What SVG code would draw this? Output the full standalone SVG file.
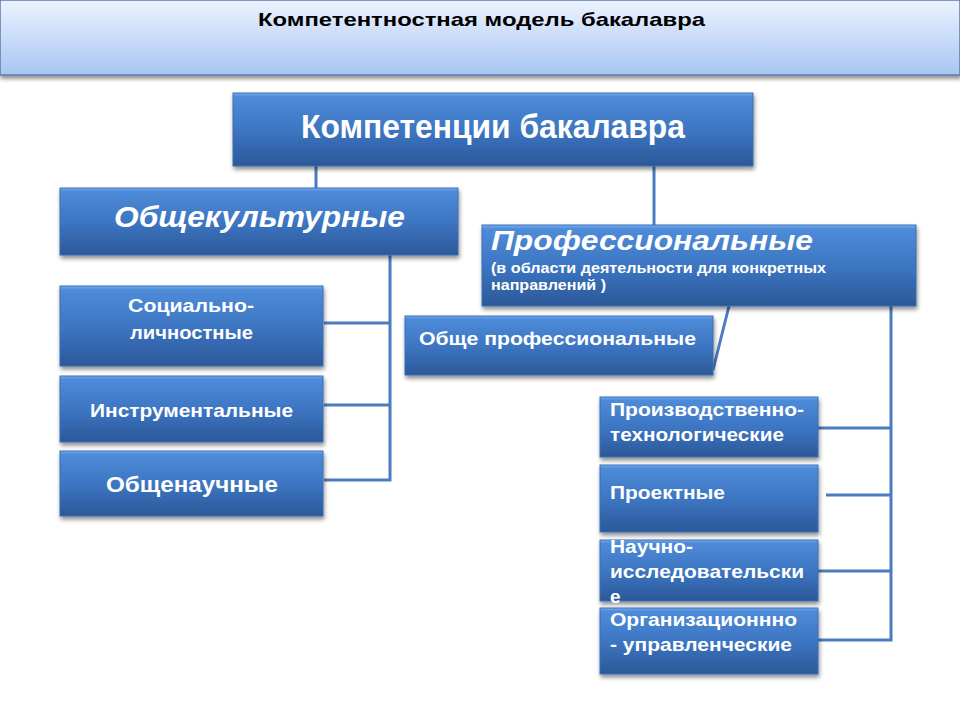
<svg xmlns="http://www.w3.org/2000/svg" width="960" height="720" viewBox="0 0 960 720">
<defs>
<linearGradient id="hdr" x1="0" y1="0" x2="0" y2="1">
<stop offset="0" stop-color="#edf3fe"/>
<stop offset="0.5" stop-color="#cadcf9"/>
<stop offset="1" stop-color="#a7c6f3"/>
</linearGradient>
<linearGradient id="box" x1="0" y1="0" x2="0" y2="1">
<stop offset="0" stop-color="#74aef0"/>
<stop offset="0.05" stop-color="#4e8bd8"/>
<stop offset="0.5" stop-color="#3d76c3"/>
<stop offset="1" stop-color="#2b5898"/>
</linearGradient>
<filter id="sh" x="-10%" y="-10%" width="120%" height="130%">
<feDropShadow dx="1" dy="3" stdDeviation="2" flood-color="#000" flood-opacity="0.45"/>
</filter>
</defs>
<style>
.b{fill:url(#box);stroke:#3a6fb3;stroke-width:1;filter:url(#sh)}
.t{font-family:"Liberation Sans",Arial,sans-serif;font-weight:bold;fill:#fff}
.c{stroke:#4a7cbf;stroke-width:3;fill:none}
</style>
<rect width="960" height="720" fill="#fff"/>
<g id="header">
<rect x="0" y="0" width="960" height="75" fill="url(#hdr)" stroke="#5a7ca8" stroke-width="1.5" filter="url(#sh)"/>
<text x="258" y="26" font-family="Liberation Sans,Arial,sans-serif" font-weight="bold" font-size="19" fill="#000" textLength="447" lengthAdjust="spacingAndGlyphs">Компетентностная модель бакалавра</text>
</g>
<g id="connectors">
<line class="c" x1="316" y1="166" x2="316" y2="188"/>
<line class="c" x1="654" y1="166" x2="654" y2="225"/>
<polyline class="c" points="390,255 390,480 324,480"/>
<line class="c" x1="324" y1="323" x2="390" y2="323"/>
<line class="c" x1="324" y1="405" x2="390" y2="405"/>
<line class="c" x1="729" y1="306" x2="713" y2="370"/>
<polyline class="c" points="891,306 891,640 818,640"/>
<line class="c" x1="818" y1="428" x2="891" y2="428"/>
<line class="c" x1="826" y1="495" x2="891" y2="495"/>
<line class="c" x1="818" y1="571" x2="891" y2="571"/>
</g>
<g id="n-root"><rect class="b" x="233" y="93" width="520" height="73"/></g>
<g id="n-obsch"><rect class="b" x="60" y="188" width="398" height="67"/></g>
<g id="n-prof"><rect class="b" x="482" y="225" width="434" height="81"/></g>
<g id="n-obprof"><rect class="b" x="405" y="316" width="308" height="59"/></g>
<g id="n-soc"><rect class="b" x="60" y="286" width="263" height="80"/></g>
<g id="n-instr"><rect class="b" x="60" y="376" width="263" height="66"/></g>
<g id="n-obnauch"><rect class="b" x="60" y="451" width="263" height="65"/></g>
<g id="n-proizv"><rect class="b" x="600" y="397" width="218" height="60"/></g>
<g id="n-proekt"><rect class="b" x="600" y="465" width="218" height="67"/></g>
<g id="n-nauch"><rect class="b" x="600" y="540" width="218" height="61"/></g>
<g id="n-org"><rect class="b" x="600" y="608" width="218" height="66"/></g>
<g id="labels">
<text class="t" x="301" y="138" font-size="33" textLength="384" lengthAdjust="spacingAndGlyphs">Компетенции бакалавра</text>
<text class="t" x="114" y="227" font-size="29" font-style="italic" textLength="291" lengthAdjust="spacingAndGlyphs">Общекультурные</text>
<text class="t" x="491" y="250" font-size="28" font-style="italic" textLength="322" lengthAdjust="spacingAndGlyphs">Профессиональные</text>
<text class="t" x="491" y="273" font-size="14" textLength="335" lengthAdjust="spacingAndGlyphs">(в области деятельности для конкретных</text>
<text class="t" x="491" y="290" font-size="14" textLength="115" lengthAdjust="spacingAndGlyphs">направлений )</text>
<text class="t" x="419" y="345" font-size="19" textLength="277" lengthAdjust="spacingAndGlyphs">Обще  профессиональные</text>
<text class="t" x="128" y="312" font-size="19" textLength="126" lengthAdjust="spacingAndGlyphs">Социально-</text>
<text class="t" x="130" y="339" font-size="19" textLength="123" lengthAdjust="spacingAndGlyphs">личностные</text>
<text class="t" x="90" y="417" font-size="19" textLength="203" lengthAdjust="spacingAndGlyphs">Инструментальные</text>
<text class="t" x="106" y="492" font-size="22" textLength="172" lengthAdjust="spacingAndGlyphs">Общенаучные</text>
<text class="t" x="610" y="416" font-size="19" textLength="194" lengthAdjust="spacingAndGlyphs">Производственно-</text>
<text class="t" x="610" y="441" font-size="19" textLength="174" lengthAdjust="spacingAndGlyphs">технологические</text>
<text class="t" x="610" y="499" font-size="19" textLength="115" lengthAdjust="spacingAndGlyphs">Проектные</text>
<text class="t" x="610" y="553" font-size="19" textLength="83" lengthAdjust="spacingAndGlyphs">Научно-</text>
<text class="t" x="610" y="578" font-size="19" textLength="194" lengthAdjust="spacingAndGlyphs">исследовательски</text>
<text class="t" x="610" y="603" font-size="19">е</text>
<text class="t" x="610" y="626" font-size="19" textLength="187" lengthAdjust="spacingAndGlyphs">Организационнно</text>
<text class="t" x="610" y="651" font-size="19" textLength="182" lengthAdjust="spacingAndGlyphs">- управленческие</text>
</g>
</svg>
